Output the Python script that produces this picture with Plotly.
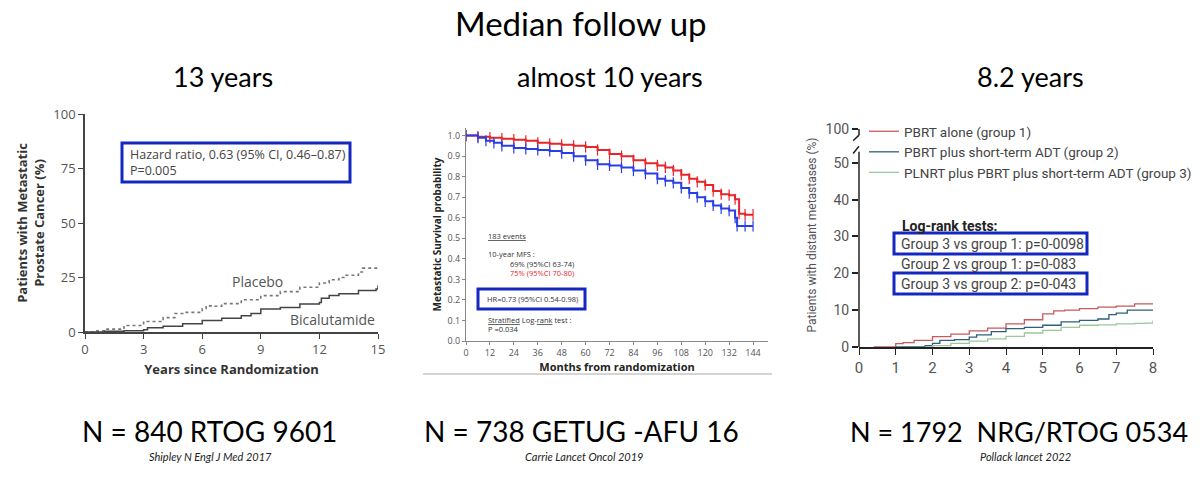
import plotly.graph_objects as go

W, H = 1200, 481
def px(x): return x / W
def py(y): return 1 - y / H

# ---------------- data ----------------
# Panel 1 (RTOG 9601)
years_placebo = [0, 0.6, 1, 2, 3, 4, 4.6, 5, 6, 6.2, 6.6, 7, 8, 9, 10, 11, 12, 12.5, 13, 13.3, 13.8, 14.0, 14.2, 15]
placebo = [0, 0.5, 1.3, 3, 4.8, 6.6, 8.5, 9, 10.8, 12, 11.8, 13, 14.8, 16.7, 18.5, 20.5, 22.5, 24, 25, 26, 26, 27.5, 29.3, 29.3]
years_bical = [0, 1, 2, 3, 3.2, 4, 5, 6, 7, 8, 8.5, 9, 10, 11, 12, 12.1, 12.5, 13, 14, 14.9, 15]
bical = [0, 0.3, 0.6, 1, 2, 2.6, 3.8, 5.3, 6.3, 7.5, 8.5, 10.6, 11.2, 12.8, 13.5, 15.5, 16.8, 17.5, 19, 19.7, 21.5]
p1_xticks = [0, 3, 6, 9, 12, 15]
p1_yticks = [0, 25, 50, 75, 100]

# Panel 2 (GETUG-AFU 16)
months_red = [0, 6, 12, 18, 24, 30, 36, 42, 48, 54, 60, 66, 72, 78, 84, 90, 96, 100, 104, 108, 112, 116, 120, 124, 128, 132, 135, 137, 140, 144]
red = [1.0, 0.995, 0.99, 0.985, 0.98, 0.975, 0.965, 0.96, 0.955, 0.95, 0.945, 0.93, 0.91, 0.9, 0.88, 0.865, 0.855, 0.845, 0.83, 0.81, 0.79, 0.775, 0.76, 0.73, 0.715, 0.71, 0.69, 0.62, 0.615, 0.615]
months_blue = [0, 6, 10, 14, 18, 24, 30, 36, 42, 48, 54, 60, 66, 72, 78, 84, 90, 96, 100, 104, 108, 112, 116, 120, 124, 128, 132, 135, 136, 140, 144]
blue = [1.0, 0.99, 0.975, 0.965, 0.95, 0.94, 0.935, 0.93, 0.925, 0.915, 0.9, 0.88, 0.86, 0.855, 0.845, 0.83, 0.815, 0.79, 0.78, 0.77, 0.745, 0.72, 0.7, 0.68, 0.66, 0.645, 0.635, 0.6, 0.56, 0.56, 0.56]
p2_xticks = list(range(0, 145, 12))
p2_yticks = [0.0, 0.1, 0.2, 0.3, 0.4, 0.5, 0.6, 0.7, 0.8, 0.9, 1.0]

# Panel 3 (NRG/RTOG 0534)
yrs_g1 = [0.4, 1, 1.2, 1.5, 2, 2.5, 3, 3.5, 4, 4.5, 5, 5.3, 5.6, 6, 6.5, 7, 7.5, 8]
g1 = [0, 0.9, 1.2, 1.8, 2.8, 3.5, 4.4, 5.1, 6.3, 7.4, 9.0, 9.8, 10.0, 10.4, 10.8, 11.1, 11.7, 11.8]
yrs_g2 = [1.0, 1.5, 1.8, 2.0, 2.2, 2.6, 3.0, 3.2, 3.6, 4.0, 4.5, 5.0, 5.5, 6.0, 6.5, 6.8, 7.0, 7.3, 8.0]
g2 = [0, 0, 0.4, 1.0, 1.8, 2.0, 2.7, 3.3, 4.2, 5.0, 5.3, 5.9, 6.8, 7.2, 7.6, 8.8, 9.2, 10.0, 10.0]
yrs_g3 = [1.8, 2.0, 2.5, 3.0, 3.5, 4.0, 4.5, 5.0, 5.5, 6.0, 6.5, 7.0, 7.5, 7.8, 8.0]
g3 = [0, 0.4, 1.0, 1.6, 2.2, 2.9, 3.8, 4.5, 5.3, 5.9, 6.0, 6.3, 6.4, 6.5, 7.2]
p3_xticks = [0, 1, 2, 3, 4, 5, 6, 7, 8]
p3_yticks = [0, 10, 20, 30, 40, 50]
p3_break_tick = 59.2  # position of the "100" label above the axis break
group_names = ["PBRT alone (group 1)", "PBRT plus short-term ADT (group 2)",
               "PLNRT plus PBRT plus short-term ADT (group 3)"]

# ---------------- styling ----------------
HAND = "Lato, 'Open Sans', sans-serif"
SANS = "'Open Sans', 'DejaVu Sans', sans-serif"
NARROW = "Roboto, sans-serif"
BOX = "#1428c0"
GREY = "#555555"

fig = go.Figure()

# Panel 1
fig.add_trace(go.Scatter(x=years_placebo, y=placebo, mode="lines", line=dict(color="#777", width=1.6, dash="dot", shape="hv"),
                         xaxis="x", yaxis="y", showlegend=False))
fig.add_trace(go.Scatter(x=years_bical, y=bical, mode="lines", line=dict(color="#444", width=1.5, shape="hv"),
                         xaxis="x", yaxis="y", showlegend=False))

# Panel 2
fig.add_trace(go.Scatter(x=months_red, y=red, mode="lines+markers", line=dict(color="#e8252a", width=2, shape="hv"),
                         marker=dict(symbol="line-ns-open", size=8, line=dict(color="#e8252a", width=1.2)),
                         xaxis="x2", yaxis="y2", showlegend=False))
fig.add_trace(go.Scatter(x=months_blue, y=blue, mode="lines+markers", line=dict(color="#2a3ee6", width=2, shape="hv"),
                         marker=dict(symbol="line-ns-open", size=8, line=dict(color="#2a3ee6", width=1.2)),
                         xaxis="x2", yaxis="y2", showlegend=False))

# Panel 3
g_colors = ["#c8595c", "#2f5f7a", "#9cc89a"]
for xs, ys, c, n in zip([yrs_g1, yrs_g2, yrs_g3], [g1, g2, g3], g_colors, group_names):
    fig.add_trace(go.Scatter(x=xs, y=ys, mode="lines", name=n, line=dict(color=c, width=1.3, shape="hv"),
                             xaxis="x3", yaxis="y3", showlegend=True))

axis_common = dict(showgrid=False, zeroline=False, showline=True, ticks="outside")

fig.update_layout(
    width=W, height=H, margin=dict(l=0, r=0, t=0, b=0, autoexpand=False),
    paper_bgcolor="white", plot_bgcolor="white",
    xaxis=dict(**axis_common, domain=[px(85), px(378)], range=[0, 15], tickvals=p1_xticks,
               linecolor="#444", linewidth=1.5, tickcolor="#444", ticklen=5,
               tickfont=dict(family=SANS, size=13, color=GREY), anchor="y",
               title=dict(text="<b>Years since Randomization</b>", font=dict(family=SANS, size=13, color="#333"), standoff=8)),
    yaxis=dict(**axis_common, domain=[py(332), py(114)], range=[0, 100], tickvals=p1_yticks,
               linecolor="#444", linewidth=1.5, tickcolor="#444", ticklen=5,
               tickfont=dict(family=SANS, size=13, color=GREY), anchor="x",
               title=dict(text="<b>Patients with Metastatic<br>Prostate Cancer (%)</b>", font=dict(family=SANS, size=13, color="#333"), standoff=6)),
    xaxis2=dict(**axis_common, domain=[px(466), px(768)], range=[0, 151.5], tickvals=p2_xticks,
                linecolor="#888", linewidth=1, tickcolor="#888", ticklen=3,
                tickfont=dict(family=SANS, size=9, color=GREY), anchor="y2",
                title=dict(text="<b>Months from randomization</b>", font=dict(family=SANS, size=11, color="#222"), standoff=4)),
    yaxis2=dict(**axis_common, domain=[py(341), py(128)], range=[0, 1.037], tickvals=p2_yticks, tickformat=".1f",
                linecolor="#888", linewidth=1, tickcolor="#888", ticklen=3,
                tickfont=dict(family=SANS, size=9, color=GREY), anchor="x2",
                title=dict(text="<b>Metastatic Survival probability</b>", font=dict(family=SANS, size=10, color="#222"), standoff=4)),
    xaxis3=dict(**axis_common, domain=[px(859), px(1153)], range=[0, 8], tickvals=p3_xticks,
                linecolor="#222", linewidth=1.5, tickcolor="#222", ticklen=6,
                tickfont=dict(family=NARROW, size=15, color=GREY), anchor="y3"),
    yaxis3=dict(showgrid=False, zeroline=False, showline=False, ticks="outside", domain=[py(347), py(123)], range=[0, 60.8],
                tickvals=p3_yticks + [p3_break_tick], ticktext=[str(v) for v in p3_yticks] + ["100"],
                tickcolor="#222", ticklen=6, tickwidth=1.5,
                tickfont=dict(family=NARROW, size=14, color=GREY), anchor="x3",
                title=dict(text="Patients with distant metastases (%)", font=dict(family=NARROW, size=12, color=GREY), standoff=6)),
    legend=dict(x=px(864), y=py(116), xanchor="left", yanchor="top", bgcolor="rgba(0,0,0,0)",
                font=dict(family=NARROW, size=13.5, color="#444"), itemwidth=30, tracegroupgap=0),
)

shapes = []
# panel 3 broken y-axis
shapes.append(dict(type="line", xref="x3 domain", yref="y3", x0=0, x1=0, y0=0, y1=53, line=dict(color="#222", width=1.5)))
shapes.append(dict(type="line", xref="x3 domain", yref="y3", x0=-0.02, x1=0.0, y0=52.5, y1=54.5, line=dict(color="#222", width=1.5)))
shapes.append(dict(type="line", xref="x3 domain", yref="y3", x0=0, x1=0, y0=57.5, y1=p3_break_tick, line=dict(color="#222", width=1.5)))
shapes.append(dict(type="line", xref="x3 domain", yref="y3", x0=0, x1=-0.02, y0=57.5, y1=56.0, line=dict(color="#222", width=1.5)))
# panel 2 bottom rule
shapes.append(dict(type="line", xref="paper", yref="paper", x0=px(423), x1=px(772), y0=py(374), y1=py(374), line=dict(color="#aaa", width=1)))
# highlight boxes
def box(x0, y0, x1, y1):
    shapes.append(dict(type="rect", xref="paper", yref="paper", x0=px(x0), x1=px(x1), y0=py(y0), y1=py(y1),
                       line=dict(color=BOX, width=3), fillcolor="rgba(0,0,0,0)"))
box(122, 143, 350, 182)
box(478, 289, 585, 309)
box(894, 233, 1087, 254)
box(894, 273, 1087, 294)
fig.update_layout(shapes=shapes)

ann = []
def text(x, y, s, size, color="#000", family=HAND, xanchor="center", yanchor="middle", align="center"):
    ann.append(dict(x=px(x), y=py(y), xref="paper", yref="paper", text=s, showarrow=False,
                    font=dict(family=family, size=size, color=color), xanchor=xanchor, yanchor=yanchor, align=align))

# headings
text(581, 23, "Median follow up", 33)
text(223, 77, "13 years", 27)
text(610, 77, "almost 10 years", 27)
text(1030, 77, "8.2 years", 27)
# bottom labels
text(209, 431, "N = 840 RTOG 9601", 28)
text(581, 431, "N = 738 GETUG -AFU 16", 28)
text(1019, 431, "N = 1792  NRG/RTOG 0534", 27)
text(210, 456, "<i>Shipley N Engl J Med 2017</i>", 11, "#222")
text(584, 456, "<i>Carrie Lancet Oncol 2019</i>", 11, "#222")
text(1025, 456, "<i>Pollack lancet 2022</i>", 11, "#222")

# panel 1 texts
text(128, 162, "Hazard ratio, 0.63 (95% CI, 0.46\u20130.87)<br>P=0.005", 12.5, "#444", SANS, "left", "middle", "left")
text(230, 281, "Placebo", 14, GREY, SANS, "left")
text(288, 319, "Bicalutamide", 14, GREY, SANS, "left")

# panel 2 texts
P2 = 7.5
text(486, 236, "<u>183 events</u>", P2, "#333", SANS, "left")
text(486, 254, "10-year MFS :", P2, "#333", SANS, "left")
text(508, 263.5, "69% (95%CI 63-74)", P2, "#333", SANS, "left")
text(508, 272.5, "75% (95%CI 70-80)", P2, "#e8252a", SANS, "left")
text(485, 299, "HR=0.73 (95%CI 0.54-0.98)", P2, "#333", SANS, "left")
text(486, 319.5, "<u>Stratified</u> Log-<u>rank</u> test :", P2, "#333", SANS, "left")
text(486, 329, "P =0.034", P2, "#333", SANS, "left")

# panel 3 texts
text(900, 226, "<b>Log-rank tests:</b>", 14, "#222", NARROW, "left")
text(899, 244, "Group 3 vs group 1: p=0-0098", 14, "#444", NARROW, "left")
text(899, 264, "Group 2 vs group 1: p=0-083", 14, "#444", NARROW, "left")
text(899, 284, "Group 3 vs group 2: p=0-043", 14, "#444", NARROW, "left")

fig.update_layout(annotations=ann)
fig.write_html("out.html")
